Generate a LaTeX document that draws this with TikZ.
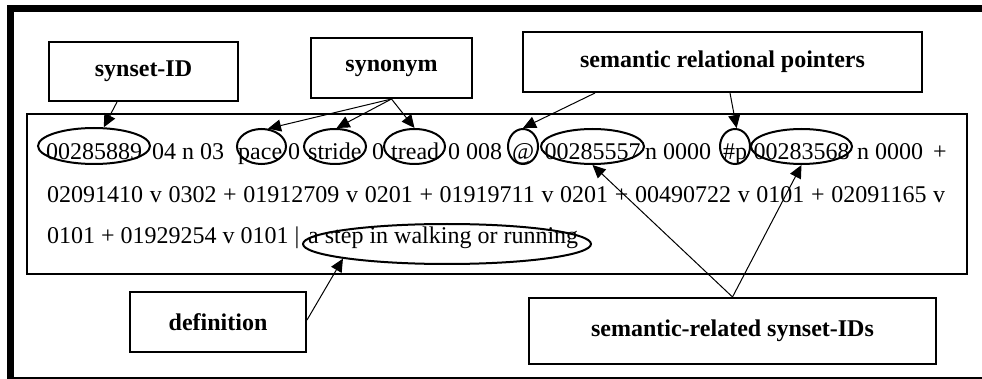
\documentclass[tikz,border=0pt]{standalone}
\usepackage{fontspec}
\setmainfont{Liberation Serif}
\usetikzlibrary{arrows.meta,shapes.geometric,calc}
\begin{document}
\begin{tikzpicture}[x=1pt,y=-1pt,
  lbl/.style={draw, line width=2pt, font=\fontsize{24}{28}\selectfont\bfseries, inner sep=0pt},
  txt/.style={anchor=base west, inner sep=0pt, font=\fontsize{24}{28}\selectfont},
  ring/.style={draw, ellipse, line width=2pt, inner sep=0pt},
  arr/.style={line width=1pt, -{Triangle[length=13pt,width=12pt]}}]
\useasboundingbox (0,0) rectangle (982,379);
% outer frame
\fill (7,5) rectangle (14,379);
\fill (7,5) rectangle (982,12);
\fill (7,376.5) rectangle (982,379);
% main box
\node[draw, line width=2pt, minimum width=940pt, minimum height=160pt, inner sep=0pt] (main) at (497,194) {};
% label boxes
\node[lbl, minimum width=189pt, minimum height=59pt] (sid) at (143.5,71.5) {synset-ID};
\node[lbl, minimum width=161pt, minimum height=60pt] (syn) at (391.5,68) {synonym};
\node[lbl, minimum width=399pt, minimum height=60pt] (srp) at (722.5,62) {semantic relational pointers};
\node[lbl, minimum width=176pt, minimum height=60pt] (def) at (218,322) {definition};
\node[lbl, minimum width=407pt, minimum height=66pt] (srsi) at (732.5,331) {semantic-related synset-IDs};
% line 1 text
\node[txt] (t1) at (46,160) {00285889};
\node[txt] (t2) at (152,160) {04 n 03};
\node[txt] (t3) at (238,160) {pace};
\node[txt] (t4) at (288,160) {0};
\node[txt] (t5) at (308,160) {stride};
\node[txt] (t6) at (372,160) {0};
\node[txt] (t7) at (391,160) {tread};
\node[txt] (t8) at (448,160) {0 008};
\node[txt] (t9) at (512,160) {@};
\node[txt] (t10) at (544.5,160) {00285557};
\node[txt] (t11) at (645,160) {n 0000};
\node[txt] (t12) at (723,160) {\#p};
\node[txt] (t13) at (753.5,160) {00283568};
\node[txt] (t14) at (857,160) {n 0000};
\node[txt] (t15) at (933,160) {+};
% line 2 and 3
\node[txt] (l2) at (47,203) {\makebox[898pt][s]{02091410 v 0302 + 01912709 v 0201 + 01919711 v 0201 + 00490722 v 0101 + 02091165 v}};
\node[txt] (l3) at (47,244) {0101 + 01929254 v 0101 |};
\node[txt] (l3b) at (308,244) {a step in walking or running};
% rings
\node[ring, minimum width=112pt, minimum height=36pt] (r1) at (94,146) {};
\node[ring, minimum width=49pt, minimum height=35pt] (rpace) at (261.5,146.5) {};
\node[ring, minimum width=62pt, minimum height=35pt] (rstride) at (335,146.5) {};
\node[ring, minimum width=61pt, minimum height=35pt] (rtread) at (414.5,146.5) {};
\node[ring, minimum width=30pt, minimum height=35pt] (rat) at (523,146.5) {};
\node[ring, minimum width=103pt, minimum height=35pt] (r2) at (592.5,146.5) {};
\node[ring, minimum width=30pt, minimum height=35pt] (rhp) at (735,146.5) {};
\node[ring, minimum width=101pt, minimum height=35pt] (r3) at (801.5,146.5) {};
\node[ring, minimum width=288pt, minimum height=40pt] (rdef) at (447,244) {};
% arrows
\draw[arr] ([xshift=-26.5pt]sid.south) -- (r1);
\draw[arr] (syn.south) -- (rpace.70);
\draw[arr] (syn.south) -- (rstride.85);
\draw[arr] (syn.south) -- (rtread.north);
\draw[arr] ([xshift=-127.5pt]srp.south) -- (rat.north);
\draw[arr] ([xshift=7.5pt]srp.south) -- (rhp.85);
\draw[arr] (srsi.north) -- (r2.south);
\draw[arr] (srsi.north) -- (r3.south);
\draw[arr] ([yshift=2pt]def.east) -- (rdef.188);
\end{tikzpicture}
\end{document}
